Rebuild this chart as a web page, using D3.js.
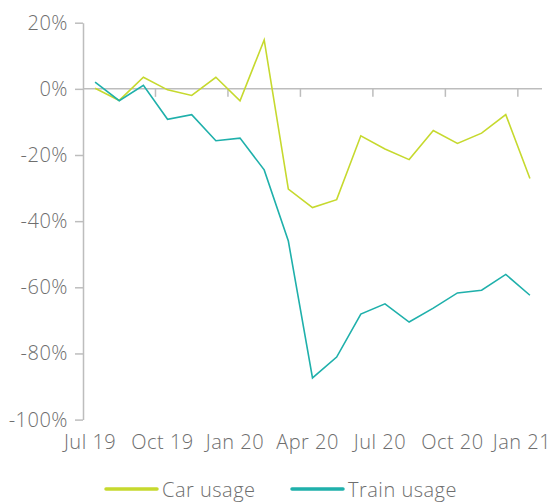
<!DOCTYPE html>
<html>
<head>
<meta charset="utf-8">
<script src="https://cdn.jsdelivr.net/npm/d3@7"></script>
<style>
  body { margin: 0; background: #fff; }
  text { font-family: "Open Sans", sans-serif; font-weight: 300; fill: #6e6e6e; letter-spacing: 0.5px; }
</style>
</head>
<body>
<div id="chart"></div>
<script>
// months along the x axis, one point per month
let months = ["Jul 19", "Aug 19", "Sep 19", "Oct 19", "Nov 19", "Dec 19",
              "Jan 20", "Feb 20", "Mar 20", "Apr 20", "May 20", "Jun 20",
              "Jul 20", "Aug 20", "Sep 20", "Oct 20", "Nov 20", "Dec 20", "Jan 21"];
let carUsage = [0.2, -3.5, 3.5, -0.3, -2.0, 3.5, -3.6, 14.8, -30.3, -35.9, -33.5,
                -14.2, -18.2, -21.4, -12.6, -16.5, -13.4, -7.8, -27.1];
let trainUsage = [2.0, -3.6, 1.1, -9.2, -7.8, -15.7, -14.9, -24.5, -46.0, -87.4, -81.1,
                  -68.1, -65.0, -70.5, -66.3, -61.7, -60.9, -56.1, -62.4];
let xLabels = ["Jul 19", "Oct 19", "Jan 20", "Apr 20", "Jul 20", "Oct 20", "Jan 21"];
let yTicks = [20, 0, -20, -40, -60, -80, -100];

let width = 551, height = 502;
let carColor = "#c6d92e", trainColor = "#1fb0ab", axisColor = "#bdbdbd";

let svg = d3.select("#chart").append("svg")
  .attr("width", width)
  .attr("height", height);

let xScale = d3.scaleBand().domain(months).range([83, 542]);
let yScale = d3.scaleLinear().domain([-100, 20]).range([419.6, 22.7]);

// y axis
let yAxis = svg.append("g")
  .attr("transform", "translate(83,0)")
  .call(d3.axisLeft(yScale)
    .tickValues(yTicks)
    .tickSize(8)
    .tickSizeOuter(0)
    .tickPadding(7)
    .tickFormat(d => d + "%"));
yAxis.attr("font-family", null);
yAxis.select(".domain").attr("stroke", axisColor).attr("stroke-width", 1.5);
yAxis.selectAll(".tick line").attr("stroke", axisColor).attr("stroke-width", 1.5);
yAxis.selectAll(".tick text")
  .attr("font-size", 20)
  .attr("fill", null);

// zero line doubles as the x axis
svg.append("line")
  .attr("x1", 83).attr("x2", xScale.range()[1])
  .attr("y1", yScale(0)).attr("y2", yScale(0))
  .attr("stroke", axisColor).attr("stroke-width", 1.5);

// ticks at the quarter boundaries, hanging under the zero line
svg.selectAll(".xtick")
  .data(xLabels.slice(1))
  .enter().append("line")
  .attr("x1", d => xScale(d)).attr("x2", d => xScale(d))
  .attr("y1", yScale(0)).attr("y2", yScale(0) + 8)
  .attr("stroke", axisColor).attr("stroke-width", 1.5);

svg.selectAll(".xlabel")
  .data(xLabels)
  .enter().append("text")
  .attr("x", (d, i) => xScale(d) + xScale.bandwidth() / 2 - (i == xLabels.length - 1 ? 8 : 5))
  .attr("y", 449)
  .attr("text-anchor", "middle")
  .attr("font-size", 20)
  .text(d => d);

// the two series
let line = d3.line()
  .x((d, i) => xScale(months[i]) + xScale.bandwidth() / 2)
  .y(d => yScale(d));

svg.append("path")
  .attr("d", line(carUsage))
  .attr("fill", "none")
  .attr("stroke", carColor)
  .attr("stroke-width", 1.6);

svg.append("path")
  .attr("d", line(trainUsage))
  .attr("fill", "none")
  .attr("stroke", trainColor)
  .attr("stroke-width", 1.6);

// legend
let legend = [
  { name: "Car usage", color: carColor, x: 106 },
  { name: "Train usage", color: trainColor, x: 292 }
];
let lg = svg.selectAll(".legend")
  .data(legend)
  .enter().append("g")
  .attr("transform", d => "translate(" + d.x + ",489)");
lg.append("line")
  .attr("x1", 0).attr("x2", 51)
  .attr("stroke", d => d.color)
  .attr("stroke-width", 3.5)
  .attr("stroke-linecap", "round");
lg.append("text")
  .attr("x", 56)
  .attr("y", 8)
  .attr("font-size", 20)
  .text(d => d.name);
</script>
</body>
</html>
